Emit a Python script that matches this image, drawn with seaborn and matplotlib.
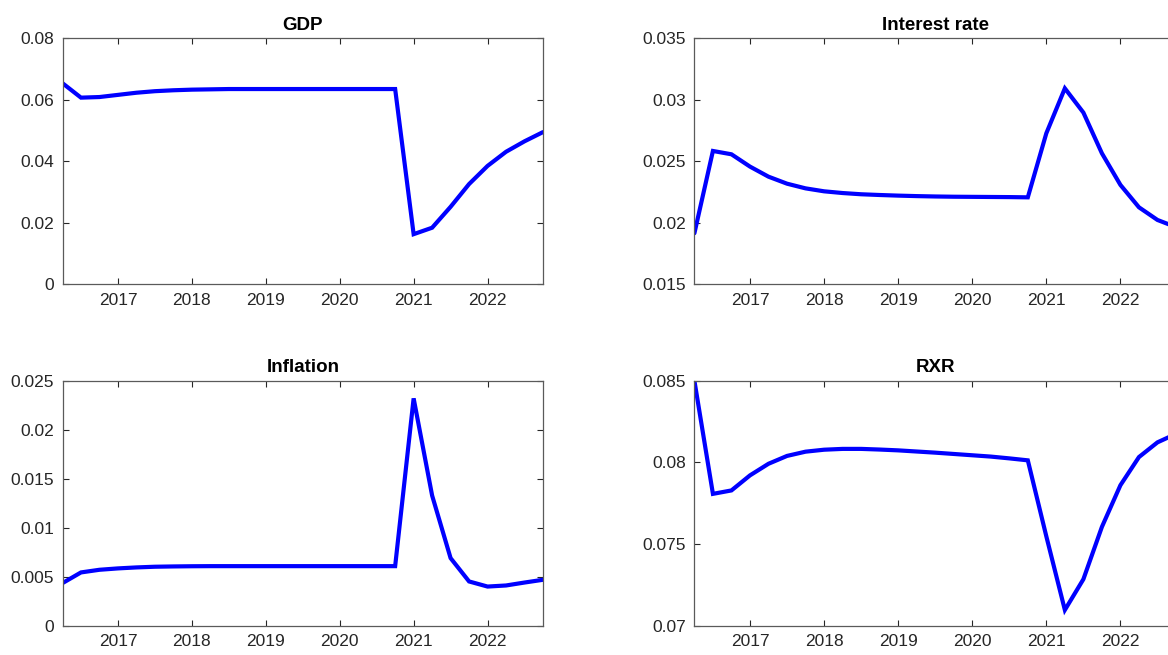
import matplotlib
matplotlib.use("Agg")
import matplotlib.pyplot as plt
import seaborn as sns
import pandas as pd

quarters = ["2016Q2", "2016Q3", "2016Q4",
            "2017Q1", "2017Q2", "2017Q3", "2017Q4",
            "2018Q1", "2018Q2", "2018Q3", "2018Q4",
            "2019Q1", "2019Q2", "2019Q3", "2019Q4",
            "2020Q1", "2020Q2", "2020Q3", "2020Q4",
            "2021Q1", "2021Q2", "2021Q3", "2021Q4",
            "2022Q1", "2022Q2", "2022Q3", "2022Q4"]

gdp = [0.0654, 0.0607, 0.0609,
       0.0616, 0.0623, 0.0628, 0.0631,
       0.0633, 0.0634, 0.0635, 0.0635,
       0.0635, 0.0635, 0.0635, 0.0635,
       0.0635, 0.0635, 0.0635, 0.0635,
       0.0163, 0.0184, 0.0252, 0.0326,
       0.0385, 0.0431, 0.0465, 0.0495]

interest = [0.01915, 0.02584, 0.02557,
            0.02457, 0.02375, 0.02318, 0.02280,
            0.02256, 0.02242, 0.02232, 0.02226,
            0.02221, 0.02217, 0.02214, 0.02212,
            0.02211, 0.02210, 0.02209, 0.02207,
            0.02728, 0.03093, 0.02896, 0.02565,
            0.02308, 0.02126, 0.02023, 0.01965]

inflation = [0.00437, 0.00546, 0.00573,
             0.00587, 0.00597, 0.00604, 0.00607,
             0.00609, 0.00610, 0.00610, 0.00610,
             0.00610, 0.00610, 0.00610, 0.00610,
             0.00610, 0.00610, 0.00610, 0.00610,
             0.02320, 0.01330, 0.00692, 0.00454,
             0.00402, 0.00413, 0.00443, 0.00471]

rxr = [0.08500, 0.07808, 0.07829,
       0.07921, 0.07992, 0.08040, 0.08066,
       0.08078, 0.08083, 0.08083, 0.08079,
       0.08074, 0.08067, 0.08060, 0.08052,
       0.08044, 0.08036, 0.08025, 0.08013,
       0.07548, 0.07098, 0.07286, 0.07606,
       0.07861, 0.08033, 0.08123, 0.08175]

titles = ["GDP", "Interest rate", "Inflation", "RXR"]
year_ticks = [2017, 2018, 2019, 2020, 2021, 2022]
ytick_sets = [
    [0, 0.02, 0.04, 0.06, 0.08],
    [0.015, 0.02, 0.025, 0.03, 0.035],
    [0, 0.005, 0.01, 0.015, 0.02, 0.025],
    [0.07, 0.075, 0.08, 0.085],
]
ytick_labels = [
    ["0", "0.02", "0.04", "0.06", "0.08"],
    ["0.015", "0.02", "0.025", "0.03", "0.035"],
    ["0", "0.005", "0.01", "0.015", "0.02", "0.025"],
    ["0.07", "0.075", "0.08", "0.085"],
]
ylims = [(0, 0.08), (0.015, 0.035), (0, 0.025), (0.07, 0.085)]

# convert quarter labels to decimal year positions (start of quarter)
def q_to_year(q):
    y, n = q.split("Q")
    return int(y) + (int(n) - 1) / 4.0

df = pd.DataFrame({
    "t": [q_to_year(q) for q in quarters],
    "GDP": gdp,
    "Interest rate": interest,
    "Inflation": inflation,
    "RXR": rxr,
})

sns.set_theme(style="white")
plt.rcParams["font.family"] = ["Liberation Sans", "DejaVu Sans"]

fig = plt.figure(figsize=(11.68, 6.55), dpi=100)
W, H = 1168.0, 655.0
# axes rects in pixels: left, top, right, bottom
rects = [
    (62.5, 38.3, 543.0, 284.3),
    (694.4, 38.3, 1176.0, 284.3),
    (62.5, 380.7, 543.0, 626.0),
    (694.4, 380.7, 1176.0, 626.0),
]
axis_col = "#262626"
for i, name in enumerate(titles):
    l, t, r, b = rects[i]
    ax = fig.add_axes([l / W, 1 - b / H, (r - l) / W, (b - t) / H])
    sns.lineplot(data=df, x="t", y=name, ax=ax, color="#0000FF",
                 linewidth=3.0, solid_joinstyle="miter")
    ax.set_xlim(df["t"].iloc[0], df["t"].iloc[-1])
    ax.set_ylim(*ylims[i])
    ax.set_xticks(year_ticks)
    ax.set_xticklabels([str(y) for y in year_ticks])
    ax.set_yticks(ytick_sets[i])
    ax.set_yticklabels(ytick_labels[i])
    ax.set_xlabel("")
    ax.set_ylabel("")
    ax.set_title(name, fontsize=13.5, fontweight="bold", color="black", pad=6)
    ax.tick_params(direction="in", length=4, width=0.8, colors=axis_col,
                   labelsize=12.5, top=True, right=True, bottom=True, left=True,
                   labelcolor=axis_col, pad=6)
    for s in ax.spines.values():
        s.set_color("#5a5a5a")
        s.set_linewidth(0.9)
        s.set_visible(True)
    ax.grid(False)

fig.savefig("out.png", dpi=100)
